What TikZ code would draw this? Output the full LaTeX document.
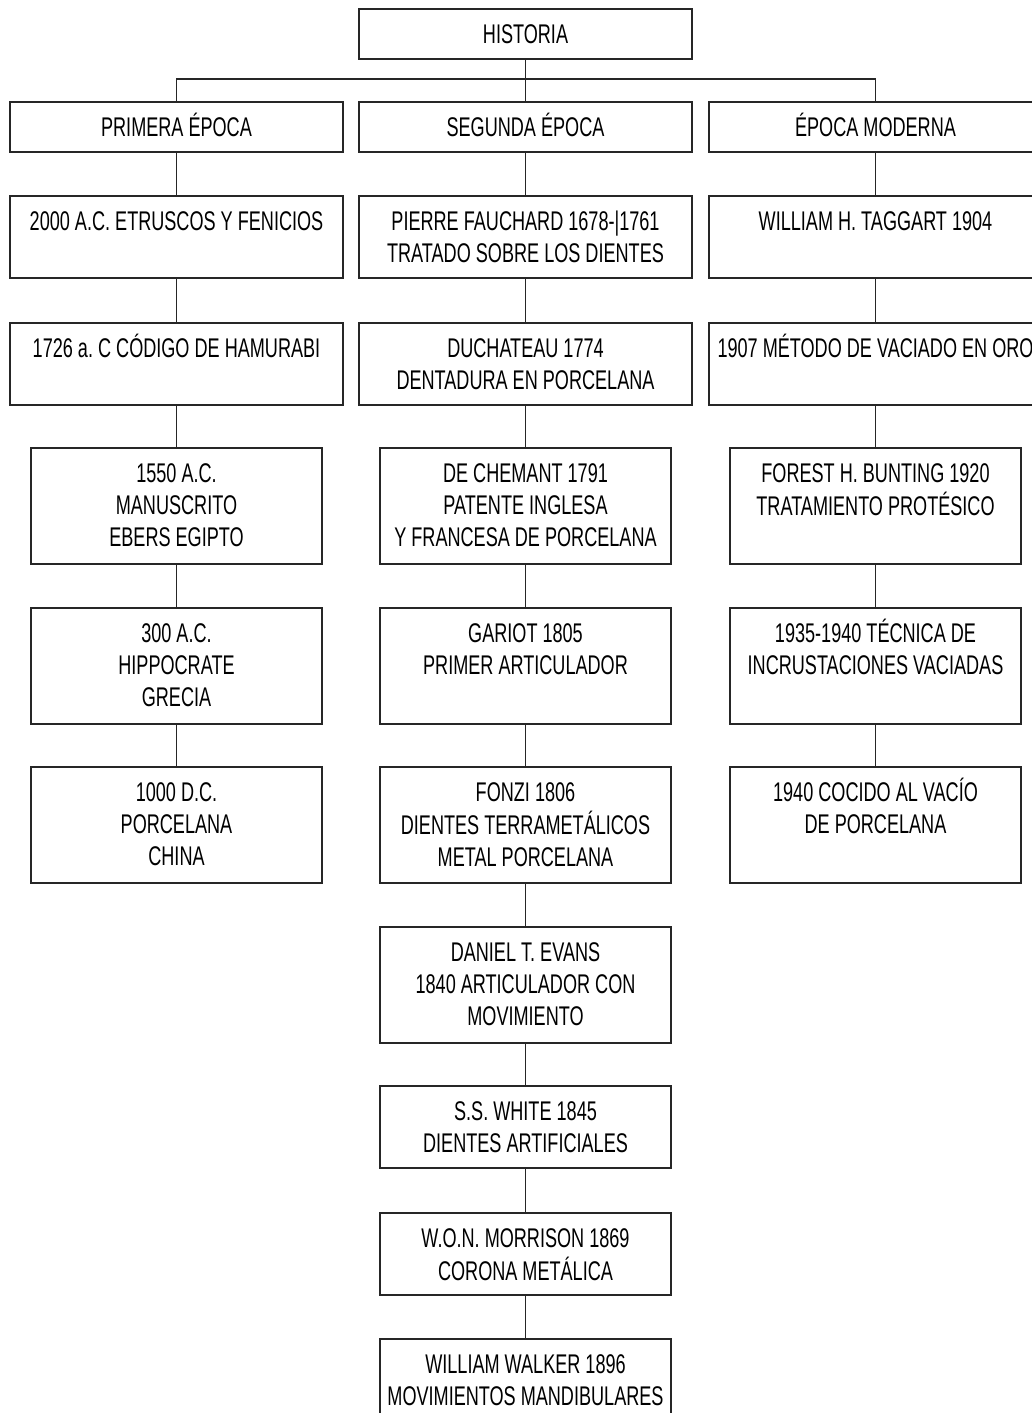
\documentclass[tikz,border=0pt]{standalone}
\usepackage{fontspec}
\setmainfont{Liberation Sans}[FakeStretch=0.67]
\frenchspacing
\newcommand{\renglones}[1]{\begin{tabular}[t]{@{}c@{}}#1\end{tabular}}

\begin{document}
\begin{tikzpicture}[x=1pt,y=-1pt,
    linea/.style={draw=black!85,line width=1.6pt},
    caja/.style={draw=black!85,line width=1.6pt,inner sep=0pt,anchor=north,
      text height=35pt,font=\fontsize{27}{32}\selectfont},
    ancha/.style={caja,minimum width=333pt},
    angosta/.style={caja,minimum width=291pt},
    baja/.style={text depth=15pt},media/.style={text depth=47pt},
    alta/.style={text depth=81pt}]

\useasboundingbox (0,0) rectangle (1032,1413);
\clip (0,0) rectangle (1032,1413);

\node[ancha,baja] (H) at (525.5,8) {HISTORIA};

% epocas
\node[ancha,baja] (P) at (176.5,101) {PRIMERA ÉPOCA};
\node[ancha,baja] (S) at (525.5,101) {SEGUNDA ÉPOCA};
\node[ancha,baja] (M) at (875.5,101) {ÉPOCA MODERNA};

% primera epoca
\node[ancha,media] (P1) at (176.5,195) {2000 A.C. ETRUSCOS Y FENICIOS};
\node[ancha,media] (P2) at (176.5,322) {1726 a. C CÓDIGO DE HAMURABI};
\node[angosta,alta] (P3) at (176.5,447) {\renglones{1550 A.C.\\MANUSCRITO\\EBERS EGIPTO}};
\node[angosta,alta] (P4) at (176.5,607) {\renglones{300 A.C.\\HIPPOCRATE\\GRECIA}};
\node[angosta,alta] (P5) at (176.5,766) {\renglones{1000 D.C.\\PORCELANA\\CHINA}};

% segunda epoca
\node[ancha,media] (S1) at (525.5,195) {\renglones{PIERRE FAUCHARD 1678-|1761\\TRATADO SOBRE LOS DIENTES}};
\node[ancha,media] (S2) at (525.5,322) {\renglones{DUCHATEAU 1774\\DENTADURA EN PORCELANA}};
\node[angosta,alta] (S3) at (525.5,447) {\renglones{DE CHEMANT 1791\\PATENTE INGLESA\\Y FRANCESA DE PORCELANA}};
\node[angosta,alta] (S4) at (525.5,607) {\renglones{GARIOT 1805\\PRIMER ARTICULADOR}};
\node[angosta,alta] (S5) at (525.5,766) {\renglones{FONZI 1806\\DIENTES TERRAMETÁLICOS\\METAL PORCELANA}};
\node[angosta,alta] (S6) at (525.5,926) {\renglones{DANIEL T. EVANS\\1840 ARTICULADOR CON\\MOVIMIENTO}};
\node[angosta,media] (S7) at (525.5,1085) {\renglones{S.S. WHITE 1845\\DIENTES ARTIFICIALES}};
\node[angosta,media] (S8) at (525.5,1212) {\renglones{W.O.N. MORRISON 1869\\CORONA METÁLICA}};
\node[angosta,media] (S9) at (525.5,1338) {\renglones{WILLIAM WALKER 1896\\MOVIMIENTOS MANDIBULARES}};

% epoca moderna
\node[ancha,media] (M1) at (875.5,195) {WILLIAM H. TAGGART 1904};
\node[ancha,media] (M2) at (875.5,322) {1907 MÉTODO DE VACIADO EN ORO};
\node[angosta,alta] (M3) at (875.5,447) {\renglones{FOREST H. BUNTING 1920\\TRATAMIENTO PROTÉSICO}};
\node[angosta,alta] (M4) at (875.5,607) {\renglones{1935-1940 TÉCNICA DE\\INCRUSTACIONES VACIADAS}};
\node[angosta,alta] (M5) at (875.5,766) {\renglones{1940 COCIDO AL VACÍO\\DE PORCELANA}};

\coordinate (barra) at (525.5,79);
\draw[linea] (H) -- (barra);
\draw[linea] (P.north) |- (barra) -| (M.north);
\draw[linea] (barra) -- (S);

\path[linea]
(P) edge (P1) (P1) edge (P2) (P2) edge (P3) (P3) edge (P4) (P4) edge (P5)
(S) edge (S1) (S1) edge (S2) (S2) edge (S3) (S3) edge (S4) (S4) edge (S5)
(S5) edge (S6) (S6) edge (S7) (S7) edge (S8) (S8) edge (S9)
(M) edge (M1) (M1) edge (M2) (M2) edge (M3) (M3) edge (M4) (M4) edge (M5);

\end{tikzpicture}
\end{document}
